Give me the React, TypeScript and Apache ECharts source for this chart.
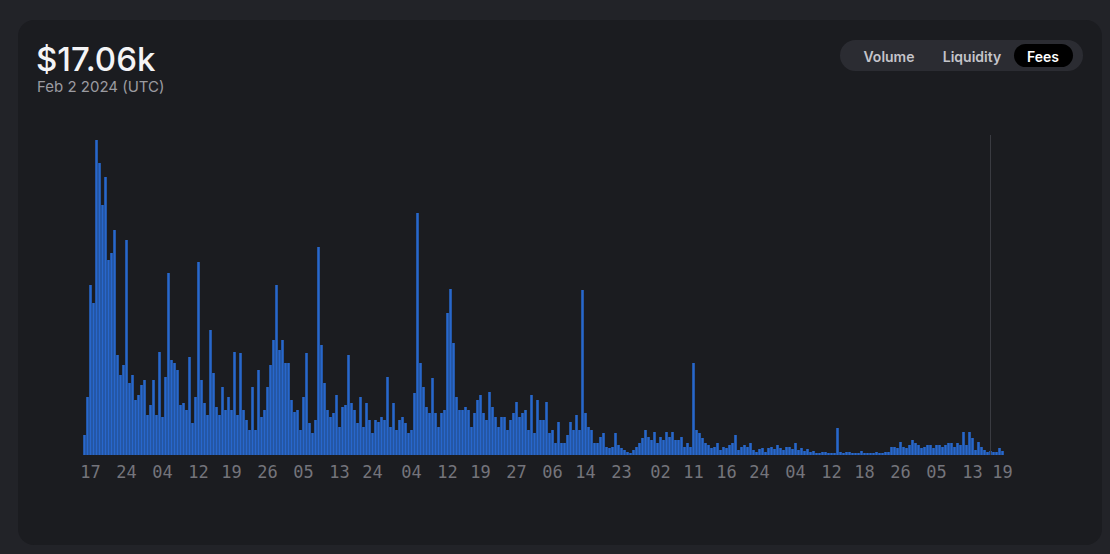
import React, { useEffect, useRef } from 'react';
import * as echarts from 'echarts';

// Fee bars (relative units), oldest first
const fees = [
  20, 58, 170, 152, 315, 292, 250, 278, 195, 202,
  225, 100, 80, 90, 215, 72, 80, 55, 60, 70,
  75, 40, 50, 75, 40, 103, 38, 78, 182, 95,
  92, 85, 50, 52, 45, 98, 32, 58, 193, 75,
  52, 40, 125, 82, 48, 40, 68, 45, 58, 45,
  103, 40, 102, 45, 35, 25, 68, 25, 85, 38,
  45, 68, 90, 115, 170, 105, 115, 92, 92, 55,
  43, 45, 25, 58, 102, 32, 22, 35, 208, 110,
  72, 45, 38, 42, 60, 28, 48, 50, 100, 52,
  45, 32, 58, 28, 52, 35, 22, 35, 33, 38,
  35, 78, 28, 52, 25, 35, 38, 32, 22, 25,
  62, 242, 92, 68, 48, 42, 77, 42, 28, 42,
  45, 142, 166, 112, 58, 45, 45, 48, 45, 28,
  42, 55, 60, 42, 35, 63, 48, 38, 28, 38,
  38, 25, 35, 42, 53, 38, 42, 45, 25, 60,
  22, 55, 35, 35, 53, 22, 25, 12, 33, 12,
  12, 20, 33, 25, 40, 25, 165, 42, 28, 25,
  12, 12, 18, 22, 8, 7, 8, 22, 10, 7,
  5, 3, 2, 5, 8, 12, 17, 25, 18, 15,
  23, 12, 18, 15, 23, 18, 23, 15, 15, 18,
  8, 12, 8, 92, 25, 22, 17, 12, 10, 7,
  8, 12, 5, 8, 7, 10, 12, 20, 5, 8,
  10, 8, 12, 5, 3, 6, 7, 3, 7, 8,
  6, 10, 7, 5, 8, 8, 6, 12, 5, 7,
  4, 6, 3, 4, 2, 2, 3, 3, 2, 2,
  2, 27, 3, 2, 3, 3, 2, 2, 2, 4,
  2, 2, 2, 2, 3, 2, 2, 3, 3, 8,
  8, 7, 13, 8, 7, 10, 15, 12, 10, 7,
  8, 10, 10, 7, 10, 10, 8, 10, 12, 12,
  8, 12, 10, 23, 10, 23, 17, 5, 13, 8,
  5, 3, 4, 3, 3, 7, 4,
];

// Day-of-month tick labels and the bar each one sits under
const tickLabels = ['17', '24', '04', '12', '19', '26', '05', '13', '24', '04', '12', '19', '27', '06', '14', '23', '02', '11', '16', '24', '04', '12', '18', '26', '05', '13', '19'];
const tickIndex = [2, 14, 26, 38, 49, 61, 73, 85, 96, 109, 121, 132, 144, 156, 167, 179, 192, 203, 214, 225, 237, 249, 260, 272, 284, 296, 306];

const headline = '$17.06k';
const headlineDate = 'Feb 2 2024 (UTC)';
const tabs = ['Volume', 'Liquidity', 'Fees'];
const activeTab = 'Fees';
const hoverIndex = 302;

export default function App() {
  const ref = useRef<HTMLDivElement>(null);

  useEffect(() => {
    if (!ref.current) return;
    const chart = echarts.init(ref.current, null, { renderer: 'svg' });
    const categories = fees.map((_, i) => 'd' + i);
    const labelFor = (i: number) => {
      const k = tickIndex.indexOf(i);
      return k >= 0 ? tickLabels[k] : '';
    };

    const tabCenters = [889, 972, 1043];

    chart.setOption({
      animation: false,
      backgroundColor: '#222328',
      grid: { left: 83, right: 106, top: 135, bottom: 99, containLabel: false },
      xAxis: {
        type: 'category',
        data: categories,
        axisLine: { show: false },
        axisTick: { show: false },
        splitLine: { show: false },
        axisLabel: {
          interval: (idx: number) => tickIndex.indexOf(idx) >= 0,
          formatter: (_v: string, idx: number) => labelFor(idx),
          color: '#74747b',
          fontSize: 17,
          fontFamily: 'DejaVu Sans Mono',
          margin: 8,
        },
      },
      yAxis: { type: 'value', min: 0, max: 320, show: false, splitLine: { show: false } },
      series: [
        {
          type: 'bar',
          data: fees,
          barCategoryGap: '14%',
          itemStyle: { color: '#2867cc' },
          z: 2,
          markLine: {
            silent: true,
            symbol: ['none', 'none'],
            label: { show: false },
            lineStyle: { color: '#3a3b41', width: 1, type: 'solid' },
            data: [{ xAxis: categories[hoverIndex] }],
          },
        },
      ],
      graphic: {
        elements: [
          {
            type: 'rect', z: -10, silent: true,
            shape: { x: 18, y: 20, width: 1084, height: 525, r: 16 },
            style: { fill: '#1b1c20' },
          },
          {
            type: 'text', x: 36, y: 42, silent: true,
            style: { text: headline, fill: '#f4f4f6', font: '500 33px Inter', textVerticalAlign: 'top' },
          },
          {
            type: 'text', x: 37, y: 79, silent: true,
            style: { text: headlineDate, fill: '#9b9ba1', font: '15px Inter', textVerticalAlign: 'top' },
          },
          {
            type: 'rect', silent: true,
            shape: { x: 840, y: 40, width: 243, height: 31, r: 15.5 },
            style: { fill: '#2b2c32' },
          },
          {
            type: 'rect', silent: true,
            shape: { x: 1014, y: 44, width: 59, height: 23, r: 11.5 },
            style: { fill: '#000000' },
          },
          ...tabs.map((t, i) => ({
            type: 'text', silent: true,
            x: tabCenters[i], y: 56,
            style: {
              text: t,
              fill: t === activeTab ? '#ffffff' : '#c4c4ca',
              font: '600 14px Inter',
              textAlign: 'center',
              textVerticalAlign: 'middle',
            },
          })),
        ],
      },
    });

    return () => chart.dispose();
  }, []);

  return <div ref={ref} style={{ position: 'fixed', left: 0, top: 0, width: 1110, height: 554 }} />;
}
